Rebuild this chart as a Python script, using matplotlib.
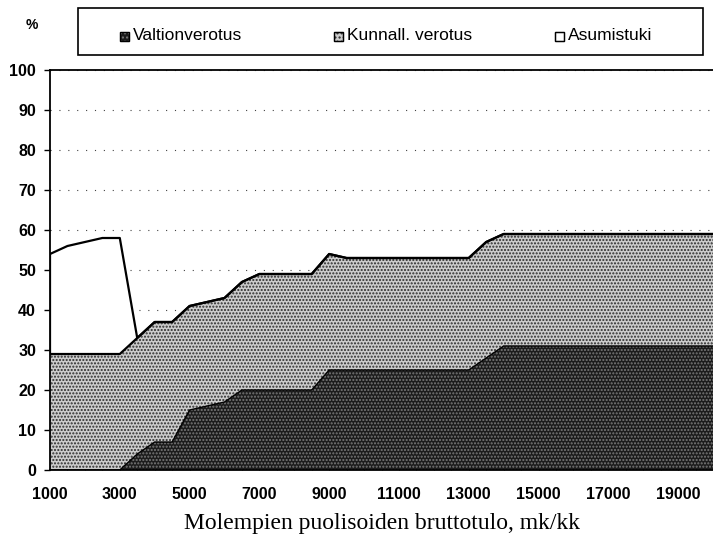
import numpy as np
import matplotlib
matplotlib.use("Agg")
import matplotlib.pyplot as plt
from matplotlib.patches import Rectangle

# data (mk/kk, % of gross income)
tulo = [1000, 1500, 2000, 2500, 3000, 3500, 4000, 4500, 5000, 5500,
        6000, 6500, 7000, 7500, 8000, 8500, 9000, 9500, 10000, 10500,
        11000, 11500, 12000, 12500, 13000, 13500, 14000, 14500, 15000, 15500,
        16000, 16500, 17000, 17500, 18000, 18500, 19000, 19500, 20000]
valtion = [0, 0, 0, 0, 0, 4, 7, 7, 15, 16,
           17, 20, 20, 20, 20, 20, 25, 25, 25, 25,
           25, 25, 25, 25, 25, 28, 31, 31, 31, 31,
           31, 31, 31, 31, 31, 31, 31, 31, 31]
kunnall = [29, 29, 29, 29, 29, 29, 30, 30, 26, 26,
           26, 27, 29, 29, 29, 29, 29, 28, 28, 28,
           28, 28, 28, 28, 28, 29, 28, 28, 28, 28,
           28, 28, 28, 28, 28, 28, 28, 28, 28]
asumistuki = [25, 27, 28, 29, 29, 0, 0, 0, 0, 0,
              0, 0, 0, 0, 0, 0, 0, 0, 0, 0,
              0, 0, 0, 0, 0, 0, 0, 0, 0, 0,
              0, 0, 0, 0, 0, 0, 0, 0, 0]
labels = ['Valtionverotus', 'Kunnall. verotus', 'Asumistuki']

x = np.array(tulo)
y1 = np.array(valtion)
y2 = y1 + np.array(kunnall)
y3 = y2 + np.array(asumistuki)

plt.rcParams['font.family'] = ['Liberation Sans', 'DejaVu Sans']
plt.rcParams['hatch.linewidth'] = 1.0

dark = dict(facecolor='#1c1c1c', edgecolor='#7a7a7a', hatch='.....')
light = dict(facecolor='#cccccc', edgecolor='#2a2a2a', hatch='.....')

fig = plt.figure(figsize=(7.13, 5.48), dpi=100)
ax = fig.add_axes([50/713, 78/548, 663/713, 400/548])

# stacked areas
ax.fill_between(x, 0, y1, linewidth=0, zorder=2, **dark)
ax.fill_between(x, y1, y2, linewidth=0, zorder=2, **light)
ax.fill_between(x, y2, y3, facecolor='white', linewidth=0, zorder=2)

ax.plot(x, y1, color='black', lw=1.0, zorder=3)
ax.plot(x, y2, color='black', lw=1.6, zorder=3)
ax.plot(x, y3, color='black', lw=1.6, zorder=3)
ax.plot([x[0], x[0]], [y2[0], y3[0]], color='black', lw=1.6, zorder=3)

ax.set_xlim(1000, 20000)
ax.set_ylim(0, 100)
ax.set_yticks(range(0, 101, 10))
ax.set_xticks(range(1000, 20000, 2000))
ax.set_xticks(tulo, minor=True)
ax.tick_params(axis='y', direction='out', length=4, width=1, labelsize=11.5, pad=6)
ax.tick_params(axis='x', which='major', direction='in', length=3, labelsize=11.5, pad=12)
ax.tick_params(axis='x', which='minor', direction='in', length=2)
for lab in ax.get_xticklabels() + ax.get_yticklabels():
    lab.set_fontweight('bold')

ax.grid(axis='y', color='#444444', linestyle=(0, (1, 7)), linewidth=0.8, zorder=0)
ax.set_axisbelow(True)
ax.spines['right'].set_visible(False)
for s in ['left', 'top', 'bottom']:
    ax.spines[s].set_linewidth(1.3)

ax.set_xlabel('Molempien puolisoiden bruttotulo, mk/kk', fontsize=17,
              family=['Liberation Serif', 'DejaVu Serif'], labelpad=8)

# legend box above the plot
fig.text(32/713, 1 - 25/548, '%', fontsize=10, fontweight='bold',
         ha='center', va='center')
fig.patches.append(Rectangle((78/713, 1 - 55/548), 625/713, 47/548,
                             transform=fig.transFigure, facecolor='white',
                             edgecolor='black', linewidth=1.2))
leg_style = [dict(dark, hatch='....'), dict(light, hatch='....'),
             dict(facecolor='white', edgecolor='black', hatch=None)]
leg_x = [120, 334, 555]
for lx, lab, st in zip(leg_x, labels, leg_style):
    fig.patches.append(Rectangle((lx/713, 1 - 41/548), 9/713, 9/548,
                                 transform=fig.transFigure, linewidth=0.8, **st))
    fig.patches.append(Rectangle((lx/713, 1 - 41/548), 9/713, 9/548,
                                 transform=fig.transFigure, facecolor='none',
                                 edgecolor='black', linewidth=1.0))
    fig.text((lx + 13)/713, 1 - 36/548, lab, fontsize=12.5,
             ha='left', va='center')

fig.savefig('out.png', dpi=100)
